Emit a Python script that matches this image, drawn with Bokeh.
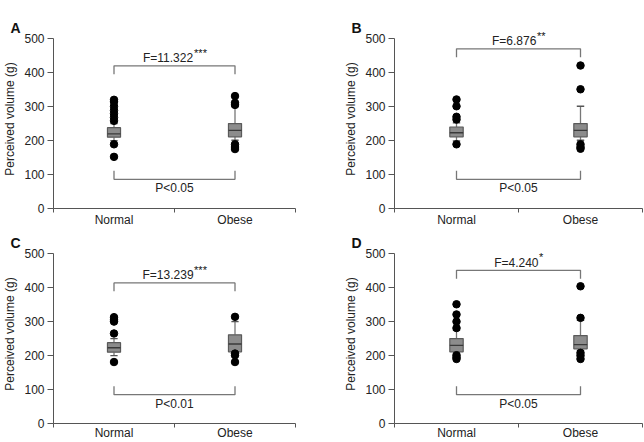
from bokeh.plotting import figure
from bokeh.models import Range1d, FixedTicker, Label
from bokeh.layouts import column, row
from bokeh.embed import file_html
from bokeh.resources import INLINE

# ---------------- data ----------------
categories = ["Normal", "Obese"]
panel_letters = ["A", "B", "C", "D"]

# per panel: [Normal, Obese]
box_q1 = [[210, 211], [211, 211], [210, 211], [211, 220]]
box_median = [[220, 230], [223, 230], [223, 234], [230, 232]]
box_q3 = [[238, 250], [240, 250], [238, 261], [250, 259]]
whisker_low = [[200, 201], [199, 201], [200, 210], [205, 215]]
whisker_high = [[250, 300], [252, 301], [250, 300], [275, 304]]

outliers_normal = [
    [320, 314, 301, 289, 279, 268, 258, 189, 152],
    [321, 301, 270, 262, 189],
    [313, 305, 300, 265, 181],
    [351, 321, 300, 281, 201, 195, 190],
]
outliers_obese = [
    [331, 311, 305, 189, 181, 175],
    [421, 351, 189, 181, 176],
    [314, 206, 201, 181],
    [404, 311, 208, 200, 190],
]

f_text = ["F=11.322", "F=6.876", "F=13.239", "F=4.240"]
f_stars = ["***", "**", "***", "*"]
p_text = ["P<0.05", "P<0.05", "P<0.01", "P<0.05"]

y_ticks = [0, 100, 200, 300, 400, 500]

# ---------------- styles / positions ----------------
FONT = "Liberation Sans"
upper_bracket = [420, 470, 414, 451]
lower_bracket = [86, 86, 85, 85]
bracket_leg = 25
EM = {"F": 0.611, "=": 0.584, ".": 0.278}
Y_TOP = 527


def text_width(s, size):
    return sum(EM.get(c, 0.556) for c in s) * size


def make_panel(i, width, height, left, right, top, bottom, xstand):
    p = figure(width=width, height=height, output_backend="svg",
               toolbar_location=None, x_range=Range1d(0, 2),
               y_range=Range1d(0, Y_TOP), min_border_left=left,
               min_border_right=right, min_border_top=top,
               min_border_bottom=bottom)
    p.outline_line_color = None
    p.grid.grid_line_color = None
    p.background_fill_color = "white"
    p.border_fill_color = "white"

    # panel letter as title
    p.title.text = panel_letters[i]
    p.title.align = "left"
    p.title.offset = -43
    p.title.standoff = -13
    p.title.text_font = FONT
    p.title.text_font_size = "14px"
    p.title.text_font_style = "bold"
    p.title.text_color = "#111111"

    centers = [k + 0.5 for k in range(len(categories))]

    # x axis
    xa = p.xaxis[0]
    xa.ticker = FixedTicker(ticks=centers, minor_ticks=[0, 1, 2])
    xa.major_label_overrides = {c: lab for c, lab in zip(centers, categories)}
    xa.major_tick_line_color = None
    xa.major_tick_out = 0
    xa.major_tick_in = 0
    xa.minor_tick_out = 4
    xa.minor_tick_in = 0
    xa.minor_tick_line_color = "#555555"
    xa.axis_line_color = "#555555"
    xa.major_label_text_font = FONT
    xa.major_label_text_font_size = "12px"
    xa.major_label_text_color = "#222222"
    xa.major_label_standoff = xstand

    # y axis
    ya = p.yaxis[0]
    ya.ticker = FixedTicker(ticks=y_ticks)
    ya.bounds = (0, 500)
    ya.minor_tick_line_color = None
    ya.major_tick_out = 6
    ya.major_tick_in = 0
    ya.major_tick_line_color = "#555555"
    ya.axis_line_color = "#555555"
    ya.major_label_text_font = FONT
    ya.major_label_text_font_size = "12px"
    ya.major_label_text_color = "#222222"
    ya.major_label_standoff = 3
    ya.axis_label = "Perceived volume (g)"
    ya.axis_label_text_font = FONT
    ya.axis_label_text_font_size = "12px"
    ya.axis_label_text_font_style = "normal"
    ya.axis_label_text_color = "#222222"
    ya.axis_label_standoff = 4

    hw = 0.054
    cw = 0.03
    for k, cx in enumerate(centers):
        q1 = box_q1[i][k]
        q3 = box_q3[i][k]
        med = box_median[i][k]
        lo = whisker_low[i][k]
        hi = whisker_high[i][k]
        p.segment(x0=[cx, cx], y0=[q3, q1], x1=[cx, cx], y1=[hi, lo],
                  line_color="#777777", line_width=1.3)
        p.segment(x0=[cx - cw, cx - cw], y0=[hi, lo], x1=[cx + cw, cx + cw],
                  y1=[hi, lo], line_color="#555555", line_width=1.3)
        p.quad(left=[cx - hw], right=[cx + hw], bottom=[q1], top=[q3],
               fill_color="#8c8c8c", line_color="#5a5a5a", line_width=1.2)
        p.segment(x0=[cx - hw], y0=[med], x1=[cx + hw], y1=[med],
                  line_color="#3a3a3a", line_width=1.3)
        outs = outliers_normal[i] if k == 0 else outliers_obese[i]
        p.scatter(x=[cx] * len(outs), y=outs, size=7.5, marker="circle",
                  fill_color="black", line_color="black")

    # brackets
    x0, x1 = centers[0], centers[1]
    mid = (x0 + x1) / 2
    ub = upper_bracket[i]
    lb = lower_bracket[i]
    p.multi_line(xs=[[x0, x0, x1, x1], [x0, x0, x1, x1]],
                 ys=[[ub - bracket_leg, ub, ub, ub - bracket_leg],
                     [lb + bracket_leg, lb, lb, lb + bracket_leg]],
                 line_color="#777777", line_width=1.3)

    w_main = text_width(f_text[i], 12)
    w_star = len(f_stars[i]) * 4.3
    off = -w_star / 2
    p.add_layout(Label(x=mid, y=ub, x_offset=off, y_offset=7.5,
                       text=f_text[i], text_align="center",
                       text_baseline="middle", text_font=FONT,
                       text_font_size="12px", text_color="#222222"))
    p.add_layout(Label(x=mid, y=ub, x_offset=off + w_main / 2 + 0.5,
                       y_offset=13, text=f_stars[i], text_align="left",
                       text_baseline="middle", text_font=FONT,
                       text_font_size="11px", text_color="#111111"))
    p.add_layout(Label(x=mid, y=lb, y_offset=-9, text=p_text[i],
                       text_align="center", text_baseline="middle",
                       text_font=FONT, text_font_size="12px",
                       text_color="#222222"))
    return p


H1 = 229
H2 = 442 - H1
pA = make_panel(0, 322, H1, 46, 27, 29, 21, 0)
pB = make_panel(1, 322, H1, 72, 2, 29, 21, 0)
pC = make_panel(2, 322, H2, 46, 27, 15, 19, -2)
pD = make_panel(3, 322, H2, 72, 2, 15, 19, -2)

layout = column(row(pA, pB), row(pC, pD))
open("out.html", "w").write(file_html(layout, INLINE))
